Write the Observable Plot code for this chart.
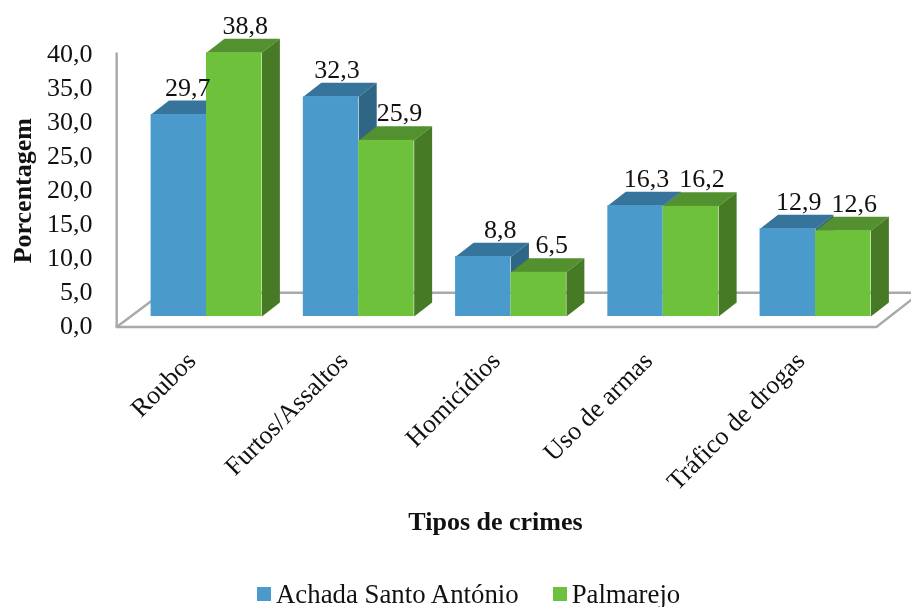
<!DOCTYPE html>
<html>
<head>
<meta charset="utf-8">
<script src="https://cdn.jsdelivr.net/npm/d3@7"></script>
<script src="https://cdn.jsdelivr.net/npm/@observablehq/plot@0.6"></script>
<style>
html,body{margin:0;padding:0;background:#fff}
body{width:911px;height:607px;overflow:hidden;font-family:"Liberation Serif",serif;color:#111}
#chart svg{display:block;filter:blur(.45px)}
#legend{position:absolute;left:257px;top:580px;height:28px;display:flex;align-items:center;font-size:26.8px;white-space:nowrap;filter:blur(.45px)}
#legend i{display:inline-block;width:14px;height:14px;margin-right:5px}
#legend span{display:inline-flex;align-items:center}
</style>
</head>
<body>
<div id="chart"></div>
<div id="legend"></div>
<script>
const categories = ["Roubos", "Furtos/Assaltos", "Homicídios", "Uso de armas", "Tráfico de drogas"];
const achada = [29.7, 32.3, 8.8, 16.3, 12.9];
const palmarejo = [38.8, 25.9, 6.5, 16.2, 12.6];
const seriesNames = ["Achada Santo António", "Palmarejo"];
const frontColors = ["#4a9bcb", "#6ec13a"];
const topColors = ["#37749b", "#53902f"];
const sideColors = ["#2f6686", "#477a24"];
const yTicks = [0, 5, 10, 15, 20, 25, 30, 35, 40];

// Bar geometry in axis units
const barWidth = 0.364, depthX = 0.118, depthY = 2.06;
// Floor and wall of the 3D frame in axis units
const floorFrontY = -1.55, floorBackY = 3.5;
const wallX = -0.59, wallTop = 38.7, floorRightX = 4.4;
// Hand placement of the value labels, in axis units along x
const labelShift = [[0, -0.02, 0.052, 0.013, 0.013], [0.013, 0.026, 0.026, 0.013, 0.013]];

const comma = v => v.toFixed(1).replace(".", ",");
const allSeries = [achada, palmarejo];

const barMarks = [];
allSeries.forEach((values, s) => {
  const rows = values.map((v, i) => {
    const x1 = i + (s - 1) * barWidth, x2 = x1 + barWidth;
    return {i, v, x1, x2};
  });
  const tops = rows.flatMap(r => [
    {i: r.i, x: r.x1, y: r.v},
    {i: r.i, x: r.x1 + depthX, y: r.v + depthY},
    {i: r.i, x: r.x2 + depthX, y: r.v + depthY},
    {i: r.i, x: r.x2, y: r.v}
  ]);
  const sides = rows.flatMap(r => [
    {i: r.i, x: r.x2, y: 0},
    {i: r.i, x: r.x2 + depthX, y: depthY},
    {i: r.i, x: r.x2 + depthX, y: r.v + depthY},
    {i: r.i, x: r.x2, y: r.v}
  ]);
  barMarks.push(
    Plot.line(tops, {x: "x", y: "y", z: "i", fill: topColors[s], stroke: "none", curve: "linear-closed"}),
    Plot.line(sides, {x: "x", y: "y", z: "i", fill: sideColors[s], stroke: "none", curve: "linear-closed"}),
    Plot.rect(rows, {x1: "x1", x2: "x2", y1: () => 0, y2: "v", fill: frontColors[s]})
  );
});

const labelRows = allSeries.flatMap((values, s) => values.map((v, i) => ({
  x: i + (s - 0.5) * barWidth + depthX / 2 + labelShift[s][i], y: v + depthY, t: comma(v)
})));

const frame = [
  {g: "wall", x: wallX, y: wallTop},
  {g: "wall", x: wallX, y: floorFrontY},
  {g: "wall", x: floorRightX, y: floorFrontY},
  {g: "wall", x: floorRightX + 0.3, y: floorBackY + 0.2},
  {g: "diag", x: wallX, y: floorFrontY},
  {g: "diag", x: wallX + 0.3, y: floorBackY},
  {g: "back", x: wallX + 0.3, y: floorBackY},
  {g: "back", x: floorRightX + 0.3, y: floorBackY}
];

const plot = Plot.plot({
  width: 911,
  height: 579,
  marginTop: 0, marginBottom: 0, marginRight: 0, marginLeft: 92,
  style: {background: "#fff", fontFamily: "Liberation Serif, serif", color: "#111", overflow: "visible"},
  x: {type: "linear", domain: [-206 / 152.25, 705 / 152.25], range: [0, 911], axis: null},
  y: {type: "linear", domain: [0, 40], range: [316, 44], axis: null},
  marks: [
    Plot.line(frame, {x: "x", y: "y", z: "g", stroke: "#a9a9a9", strokeWidth: 2.4, strokeLinejoin: "miter"}),
    ...barMarks,
    Plot.axisY({ticks: yTicks, tickFormat: comma, tickSize: 0, tickPadding: 0, dy: 9, fontSize: 26, label: null, textStroke: "none"}),
    Plot.text(labelRows, {x: "x", y: "y", text: "t", fontSize: 26, lineAnchor: "bottom", dy: -5, fill: "#111"}),
    Plot.text(categories, {
      x: (d, i) => i - 0.1, y: () => 0, text: d => d, rotate: -45, textAnchor: "end",
      dy: 40, fontSize: 26, fill: "#111"
    }),
    Plot.text(["Porcentagem"], {
      y: () => 18.5, frameAnchor: "left", textAnchor: "middle", dx: -70, rotate: -90, fontSize: 26, fontWeight: "bold", fill: "#111"
    }),
    Plot.text(["Tipos de crimes"], {
      x: () => 1.898, frameAnchor: "bottom", dy: -58, lineAnchor: "middle", fontSize: 26, fontWeight: "bold", fill: "#111"
    })
  ]
});
document.getElementById("chart").append(plot);

const legend = document.getElementById("legend");
seriesNames.forEach((name, s) => {
  const item = document.createElement("span");
  item.style.marginRight = s === 0 ? "34px" : "0";
  const sw = document.createElement("i");
  sw.style.background = frontColors[s];
  item.append(sw, document.createTextNode(name));
  legend.append(item);
});
</script>
</body>
</html>
